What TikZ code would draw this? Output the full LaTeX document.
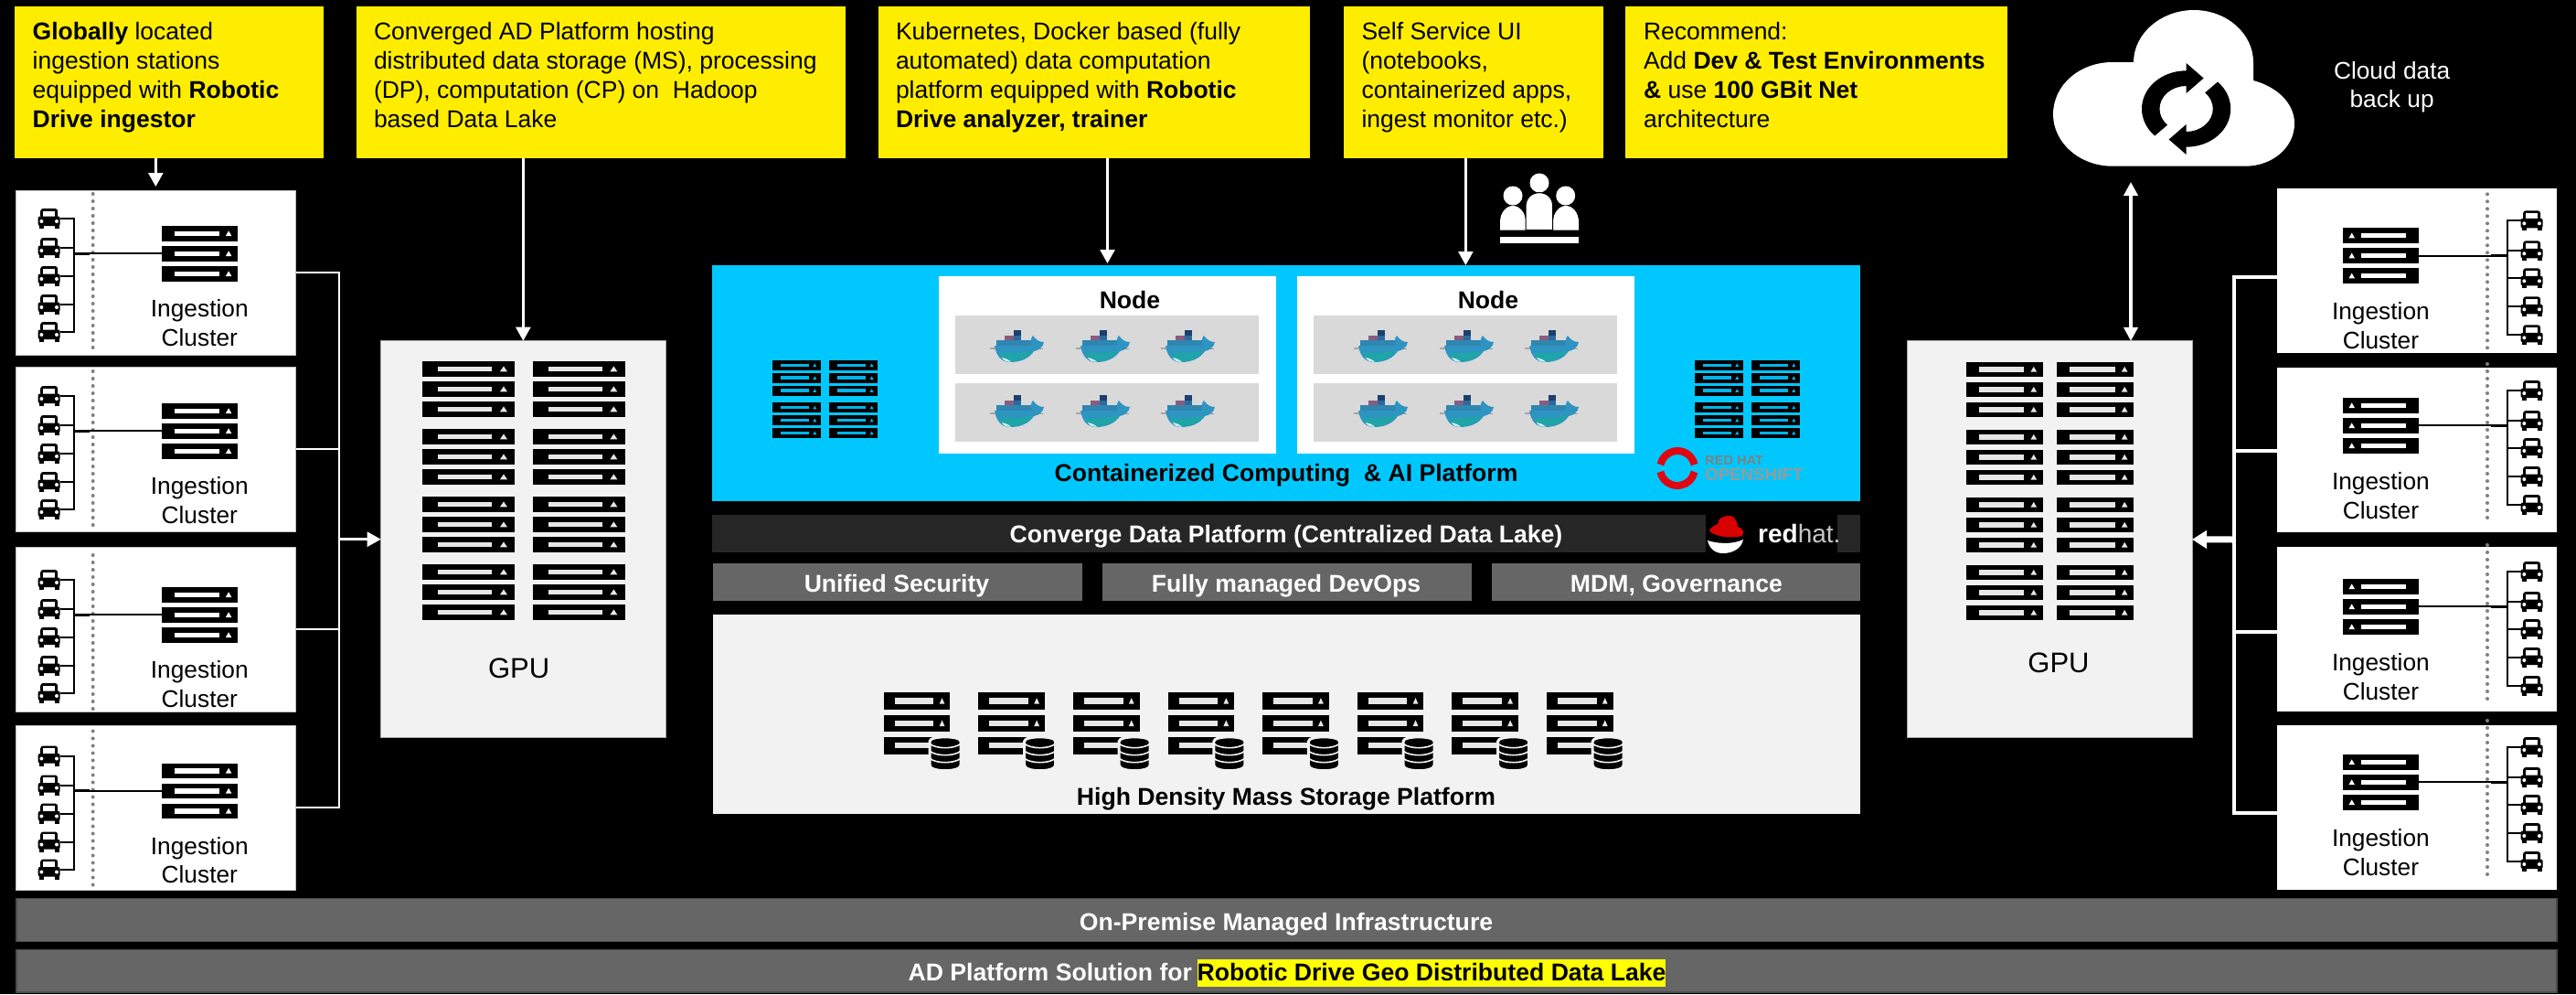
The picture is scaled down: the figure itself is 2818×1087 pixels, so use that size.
\documentclass[tikz,border=0pt]{standalone}
\usepackage{fontspec}
\setmainfont{Liberation Sans}
\usetikzlibrary{arrows.meta}
\definecolor{ybox}{HTML}{FFED00}
\definecolor{hl}{HTML}{FFFF00}
\definecolor{sky}{HTML}{00C8FF}
\definecolor{skyin}{HTML}{00B4EA}
\definecolor{pale}{HTML}{F2F2F2}
\definecolor{inpale}{HTML}{E6E6E6}
\definecolor{midgrey}{HTML}{666666}
\definecolor{darkbar}{HTML}{262626}
\definecolor{rowgrey}{HTML}{D9D9D9}
\definecolor{whalehull}{HTML}{2E94C2}
\definecolor{whalelow}{HTML}{1FA5A8}
\definecolor{whalerow}{HTML}{2F86B0}
\definecolor{whaletop}{HTML}{1D3F6E}
\definecolor{whalemid}{HTML}{8A5C80}
\definecolor{whalemidb}{HTML}{2B6A9C}
\definecolor{osred}{HTML}{E00612}
\tikzset{
  plainbox/.style={inner sep=0pt,outer sep=0pt,anchor=north west},
  yellowbox/.style={plainbox,fill=ybox},
  clusterbox/.style={plainbox,fill=white,draw=white!75!black,line width=1pt},
  clusterboxR/.style={plainbox,fill=white},
  gpubox/.style={plainbox,fill=pale,draw=black!35,line width=1pt},
  skybox/.style={plainbox,fill=sky},
  whitebox/.style={plainbox,fill=white},
  rowbox/.style={plainbox,fill=rowgrey},
  palebox/.style={plainbox,fill=pale},
  greybar/.style={plainbox,fill=midgrey},
  greybarE/.style={plainbox,fill=midgrey,draw=black!70,line width=1.5pt},
  darkbox/.style={plainbox,fill=darkbar},
  blackbox/.style={plainbox,fill=black},
  hlbox/.style={plainbox,fill=hl},
  txt/.style={inner sep=0pt,outer sep=0pt,font=\fontsize{26.3}{32}\selectfont},
  btxt/.style={inner sep=0pt,outer sep=0pt,font=\fontsize{26.6}{32}\selectfont\bfseries},
  yellowtxt/.style={inner sep=0pt,outer sep=0pt,font=\fontsize{26.5}{32}\selectfont,anchor=north west,align=left,text=black},
  wire/.style={draw=black,line width=2pt},
  busline/.style={draw=black,line width=3pt},
  dots/.style={draw=black!50,line width=4pt,line cap=round,dash pattern=on 0pt off 8pt},
  feed/.style={draw=white,line width=2.5pt},
  feedarrow/.style={feed,-{Triangle[width=16pt,length=15pt]}},
  feedR/.style={draw=white,line width=4.5pt},
  dbl/.style={draw=white,line width=4pt,{Triangle[width=15pt,length=15pt]}-{Triangle[width=15pt,length=15pt]}}
}
% box from corners
\newcommand\boxnode[6]{\node[#2,minimum width={(#5-#3)*1pt},minimum height={(#6-#4)*1pt}] (#1) at (#3,#4) {};}
% server bar, triangle on the right
\newcommand\srvL[5]{\begin{scope}[shift={({#1},{#2})},x=#3pt,y=-#4pt]
  \fill[black] (0,0) rectangle (1,1);
  \fill[#5] (.167,.33) rectangle (.752,.67);
  \fill[#5] (.838,.67) -- (.918,.67) -- (.878,.32) -- cycle;
\end{scope}}
% server bar, triangle on the left
\newcommand\srvR[5]{\begin{scope}[shift={({#1+#3},{#2})},x=-#3pt,y=-#4pt]
  \fill[black] (0,0) rectangle (1,1);
  \fill[#5] (.167,.33) rectangle (.752,.67);
  \fill[#5] (.838,.67) -- (.918,.67) -- (.878,.32) -- cycle;
\end{scope}}
\newcommand\carIcon[2]{\begin{scope}[shift={({#1},{#2})}]
  \fill[black,rounded corners=3pt] (-9.5,0) rectangle (9.5,-11);
  \fill[white] (-6.5,-8.5) rectangle (6.5,-2.5);
  \fill[black,rounded corners=2pt] (-12,-2.5) rectangle (12,8);
  \fill[black] (-11,7) rectangle (-6,11);
  \fill[black] (6,7) rectangle (11,11);
  \fill[white] (-8.3,3) circle[radius=2pt];
  \fill[white] (8.3,3) circle[radius=2pt];
\end{scope}}
\newcommand\clusterL[4]{%
  \boxnode{#1}{clusterbox}{17}{#2}{323.7}{#3}
  \begin{scope}[shift={(0,#4)}]
    \draw[dots] (101.7,-35) -- (101.7,133);
    \foreach \c in {-8,24,55,86,116} {\carIcon{53.7}{\c}\draw[wire] (65.7,\c) -- (80.7,\c);}
    \draw[wire] (80.7,-9) -- (80.7,117);
    \srvL{176.7}{0}{83.6}{16.7}{white}
    \srvL{176.7}{22}{83.6}{16.7}{white}
    \srvL{176.7}{44}{83.6}{16.7}{white}
    \draw[wire] (80.7,30.3) -- (176.7,30.3);
    \draw[busline] (80.7,30.3) -- (98,30.3);
    \node[txt,anchor=base] (#1a) at (218.3,99.7) {Ingestion};
    \node[txt,anchor=base] (#1b) at (218.3,131) {Cluster};
  \end{scope}}
\newcommand\clusterR[4]{%
  \boxnode{#1}{clusterboxR}{2491}{#2}{2797}{#3}
  \begin{scope}[shift={(0,#4)}]
    \draw[dots] (2721,-37) -- (2721,133);
    \foreach \c in {-8,25,55,86,117} {\carIcon{2769.6}{\c}\draw[wire] (2742.5,\c) -- (2757.6,\c);}
    \draw[wire] (2742.5,-9) -- (2742.5,118);
    \srvR{2562.5}{0}{83.6}{16.7}{white}
    \srvR{2562.5}{22}{83.6}{16.7}{white}
    \srvR{2562.5}{44}{83.6}{16.7}{white}
    \draw[wire] (2646,30.3) -- (2742.5,30.3);
    \draw[busline] (2725,30.3) -- (2742.5,30.3);
    \node[txt,anchor=base] (#1a) at (2604.4,100) {Ingestion};
    \node[txt,anchor=base] (#1b) at (2604.4,132) {Cluster};
  \end{scope}}
\newcommand\whale[2]{\begin{scope}[shift={({#1},{#2})}]
  \fill[black!35] (-30,2.2) rectangle (-22,3.8);
  \fill[black!40] (20,3.2) rectangle (28,4.4);
  \fill[whaletop] (-4,-17) rectangle (4,-10.5);
  \fill[whalemid] (-14,-11) rectangle (-4,-5.5);
  \fill[whalemidb] (-4,-11) rectangle (4,-5.5);
  \fill[whalerow] (-23,-6) rectangle (15,1);
  \fill[whalehull] (-25,0) -- (15,0) .. controls (14,-5) and (15,-9) .. (17,-11)
     .. controls (20,-7) and (23,-4) .. (29,-4) .. controls (28,2) and (23,5) .. (18,6)
     .. controls (13,14) and (3,18) .. (-8,18) .. controls (-17,18) and (-23,12) .. (-25,0) -- cycle;
  \fill[whalelow] (-20,8) .. controls (-5,9) and (8,7) .. (17,5.5) .. controls (11,13) and (2,17) .. (-8,17.5) .. controls (-14,17.5) and (-18,13) .. (-20,8) -- cycle;
  \fill[white!85!cyan] (-17,13) .. controls (-13,14) and (-10,15) .. (-7,17.6) .. controls (-11,17.8) and (-15,17) .. (-17,13) -- cycle;
\end{scope}}
\newcommand\dbicon[2]{\begin{scope}[shift={({#1},{#2})}]
  \path[fill=black,draw=pale,line width=3pt] (-17,5) .. controls (-17,-1.5) and (17,-1.5) .. (17,5) -- (17,31)
     .. controls (17,39) and (-17,39) .. (-17,31) -- cycle;
  \foreach \e in {7.5,15.5,23.5} {\draw[pale,line width=1.6pt] (-17,\e) .. controls (-10,{\e+6}) and (10,{\e+6}) .. (17,\e);}
\end{scope}}
\begin{document}
\begin{tikzpicture}[x=1pt,y=-1pt]
\useasboundingbox (0,0) rectangle (2818,1087);
\fill[black] (0,0) rectangle (2818,1087);

% yellow notes
\boxnode{Y1}{yellowbox}{16}{7}{353.6}{172.7}
\boxnode{Y2}{yellowbox}{390}{7}{925}{172.7}
\boxnode{Y3}{yellowbox}{961}{7}{1432.7}{172.7}
\boxnode{Y4}{yellowbox}{1470}{7}{1754}{172.7}
\boxnode{Y5}{yellowbox}{1778}{7}{2196}{172.7}
\node[yellowtxt] (T1) at (35.7,24) {\textbf{Globally} located\\ingestion stations\\equipped with \textbf{Robotic}\\\textbf{Drive ingestor}};
\node[yellowtxt] (T2) at (409,24) {Converged AD Platform hosting\\distributed data storage (MS), processing\\(DP), computation (CP) on~~Hadoop\\based Data Lake};
\node[yellowtxt] (T3) at (980,24) {Kubernetes, Docker based (fully\\automated) data computation\\platform equipped with \textbf{Robotic}\\\textbf{Drive analyzer, trainer}};
\node[yellowtxt] (T4) at (1489.5,24) {Self Service UI\\(notebooks,\\containerized apps,\\ingest monitor etc.)};
\node[yellowtxt] (T5) at (1798,24) {Recommend:\\Add \textbf{Dev \& Test Environments}\\\textbf{\&} use \textbf{100 GBit Net}\\architecture};

% left clusters
\clusterL{L1}{208}{388}{247}
\clusterL{L2}{401}{581}{441}
\clusterL{L3}{598}{778}{642}
\clusterL{L4}{793}{973}{834.5}
% right clusters
\clusterR{R1}{206}{386}{249.3}
\clusterR{R2}{402}{582}{435}
\clusterR{R3}{598}{778}{633}
\clusterR{R4}{793}{973}{825}

% GPU panels
\boxnode{GL}{gpubox}{416.7}{372.7}{728}{806.7}
\foreach \g in {0,...,3} \foreach \i in {0,1,2} {
  \srvL{462.3}{395+74*\g+22*\i}{101}{17}{inpale}
  \srvL{582.7}{395+74*\g+22*\i}{101}{17}{inpale}
}
\node[txt,anchor=base,font=\fontsize{31}{36}\selectfont] (GLt) at (567.7,741) {GPU};
\boxnode{GR}{gpubox}{2086.6}{372.9}{2398}{806.8}
\foreach \g in {0,...,3} \foreach \i in {0,1,2} {
  \srvL{2151}{395.6+74*\g+22*\i}{84}{16.5}{inpale}
  \srvL{2250.4}{395.6+74*\g+22*\i}{84}{16.5}{inpale}
}
\node[txt,anchor=base,font=\fontsize{31}{36}\selectfont] (GRt) at (2252,735) {GPU};

% container platform
\boxnode{SK}{skybox}{779}{290}{2035}{547.7}
\foreach \g in {0,1} \foreach \i in {0,1,2} {
  \srvL{845}{394+46.3*\g+13.9*\i}{52.7}{10.7}{skyin}
  \srvL{907.3}{394+46.3*\g+13.9*\i}{52.7}{10.7}{skyin}
  \srvL{1854}{394+46.3*\g+13.9*\i}{52.7}{10.7}{skyin}
  \srvL{1916}{394+46.3*\g+13.9*\i}{52.7}{10.7}{skyin}
}
\boxnode{N1}{whitebox}{1027}{302}{1396}{496}
\boxnode{N2}{whitebox}{1419}{302}{1787.7}{496}
\boxnode{N1a}{rowbox}{1045}{345}{1377}{409}
\boxnode{N1b}{rowbox}{1045}{419}{1377}{483}
\boxnode{N2a}{rowbox}{1437}{345}{1769}{409}
\boxnode{N2b}{rowbox}{1437}{419}{1769}{483}
\node[btxt,anchor=base] (N1t) at (1236,337) {Node};
\node[btxt,anchor=base] (N2t) at (1628,337) {Node};
\foreach \wy in {378,449} \foreach \wx in {1113,1207,1300,1511,1605,1698} {\whale{\wx}{\wy}}
\node[btxt,anchor=base] (SKt) at (1407,526) {Containerized Computing~~\& AI Platform};
% OpenShift mark
\begin{scope}[shift={(1835,512)},x=1pt,y=1pt]
  \draw[osred,line width=8pt] (12:19) arc[start angle=12,end angle=168,radius=19pt];
  \draw[osred,line width=8pt] (192:19) arc[start angle=192,end angle=348,radius=19pt];
\end{scope}
\node[inner sep=0pt,anchor=base west,text=black!50,font=\fontsize{14.6}{16}\selectfont\bfseries] (OSa) at (1865,508) {RED HAT};
\node[inner sep=0pt,anchor=base west,text=black!40,font=\fontsize{18.7}{20}\selectfont\bfseries] (OSb) at (1865,525) {OPENSHIFT};

% data platform bars
\boxnode{CD}{darkbox}{779}{563}{2035}{604}
\boxnode{RH}{blackbox}{1866}{559}{2010}{605}
\node[btxt,anchor=base,text=white] (CDt) at (1407,593) {Converge Data Platform (Centralized Data Lake)};
\fill[red!85!black] (1870,580) .. controls (1872,585) and (1890,590) .. (1906,586) .. controls (1909,580) and (1905,577) .. (1901,576)
   .. controls (1900,568) and (1896,563) .. (1890,564) .. controls (1884,566) and (1880,565) .. (1880,572) .. controls (1879,574) and (1872,575) .. (1870,580) -- cycle;
\fill[white] (1868,591) .. controls (1876,594) and (1895,596) .. (1907,590) .. controls (1905,600) and (1895,605) .. (1885,605) .. controls (1876,605) and (1870,600) .. (1868,591) -- cycle;
\node[inner sep=0pt,anchor=base west,font=\fontsize{28}{30}\selectfont] (RHt) at (1923,593) {\textcolor{white}{\bfseries red}\textcolor{black!22}{hat.}};
\boxnode{B1}{greybar}{780}{616}{1184}{657}
\boxnode{B2}{greybar}{1206}{616}{1610}{657}
\boxnode{B3}{greybar}{1632}{616}{2035}{657}
\node[btxt,anchor=base,text=white] (B1t) at (981,647) {Unified Security};
\node[btxt,anchor=base,text=white] (B2t) at (1407,647) {Fully managed DevOps};
\node[btxt,anchor=base,text=white] (B3t) at (1834,647) {MDM, Governance};

% mass storage
\boxnode{MS}{palebox}{780}{672}{2035}{890}
\foreach \m in {0,...,7} {
  \srvL{966.7+103.6*\m}{757.3}{72.7}{18.5}{inpale}
  \srvL{966.7+103.6*\m}{781.6}{72.7}{18.5}{inpale}
  \srvL{966.7+103.6*\m}{806}{72.7}{18.5}{inpale}
  \dbicon{1034+103.6*\m}{805.7}
}
\node[btxt,anchor=base] (MSt) at (1407,880) {High Density Mass Storage Platform};

% bottom bars
\boxnode{P1}{greybarE}{18}{982.7}{2797}{1029.7}
\boxnode{P2}{greybarE}{18}{1038.7}{2797}{1085}
\node[btxt,anchor=base,text=white] (P1t) at (1407,1017) {On-Premise Managed Infrastructure};
\boxnode{P3}{hlbox}{1310}{1049}{1822}{1079}
\node[btxt,anchor=base east,text=white] (P2t) at (1304,1072) {AD Platform Solution for};
\node[btxt,anchor=base] (P3t) at (P3.center |- 0,1072) {Robotic Drive Geo Distributed Data Lake};

% cloud
\fill[white] (2311,181.7) .. controls (2275,181.7) and (2246,156) .. (2246,125)
  .. controls (2246,93) and (2275,68) .. (2311,68) -- (2334,68)
  .. controls (2334,37) and (2364,11) .. (2400,11)
  .. controls (2436,11) and (2465,37) .. (2465,68) -- (2465,88)
  .. controls (2491,95) and (2510,113) .. (2510,135)
  .. controls (2510,161) and (2486,181.7) .. (2456,181.7) -- cycle;
\begin{scope}[shift={(2391.6,119)},xscale=1.166,x=1pt,y=1pt]
  \fill[black] (0,41.7) arc[start angle=90,end angle=225,radius=41.7pt] -- (225:25) arc[start angle=225,end angle=90,radius=25pt]
     -- (0,17) -- (16.3,33.5) -- (0,50) -- cycle;
  \begin{scope}[rotate=180]
  \fill[black] (0,41.7) arc[start angle=90,end angle=225,radius=41.7pt] -- (225:25) arc[start angle=225,end angle=90,radius=25pt]
     -- (0,17) -- (16.3,33.5) -- (0,50) -- cycle;
  \end{scope}
\end{scope}
\node[txt,text=white,anchor=base] (CLa) at (2616.6,86) {Cloud data};
\node[txt,text=white,anchor=base] (CLb) at (2616.6,117) {back up};

% people
\fill[white] (1655,214) circle[radius=10.5pt];
\fill[white] (1712.7,214) circle[radius=10.5pt];
\fill[white] (1684,200) circle[radius=10.5pt];
\fill[white] (1641,251.7) -- (1641,243) .. controls (1641,232) and (1648,225) .. (1655,225) .. controls (1662,225) and (1669,232) .. (1669,243) -- (1669,251.7) -- cycle;
\fill[white] (1699,251.7) -- (1699,243) .. controls (1699,232) and (1706,225) .. (1713,225) .. controls (1720,225) and (1727,232) .. (1727,243) -- (1727,251.7) -- cycle;
\path[fill=white,draw=black,line width=1pt] (1669,251.7) -- (1669,226) .. controls (1669,216) and (1676,210.7) .. (1684,210.7) .. controls (1692,210.7) and (1698.7,216) .. (1698.7,226) -- (1698.7,251.7) -- cycle;
\fill[white] (1641,259) rectangle (1727,266);

% note connectors
\draw[feedarrow,shorten >=4pt] (Y1.south -| L1.north) -- (L1.north);
\draw[feedarrow] (Y2.south -| GL.north) -- (GL.north);
\draw[feedarrow,shorten >=2pt] (Y3.south -| N1.north) -- (N1.north |- SK.north);
\draw[feedarrow,shorten >=0pt] (Y4.south -| N2.north) -- (N2.north |- SK.north);

% left bus
\coordinate (LB) at (371,589.7);
\draw[feed] (L1.east) -| (LB);
\draw[feed] (L2.east) -| (LB);
\draw[feed] (L3.east) -| (LB);
\draw[feed] (L4.east) -| (LB);
\draw[feedarrow] (LB) -- (GL.west);

% right bus
\coordinate (RB) at (2444.2,590);
\draw[feedR] ([yshift=-7pt]R1.west) -| (RB);
\draw[feedR] ([yshift=-1pt]R2.west) -| (RB);
\draw[feedR] ([yshift=-3pt]R3.west) -| (RB);
\draw[feedR] ([yshift=-6pt]R4.west) -| (RB);
\draw[draw=white,line width=7pt,-{Triangle[width=19pt,length=16pt]}] (RB) -- (GR.east);

% cloud link
\coordinate (CB) at (2331,199);
\draw[dbl] (CB) -- (CB |- GR.north);
\end{tikzpicture}
\end{document}
